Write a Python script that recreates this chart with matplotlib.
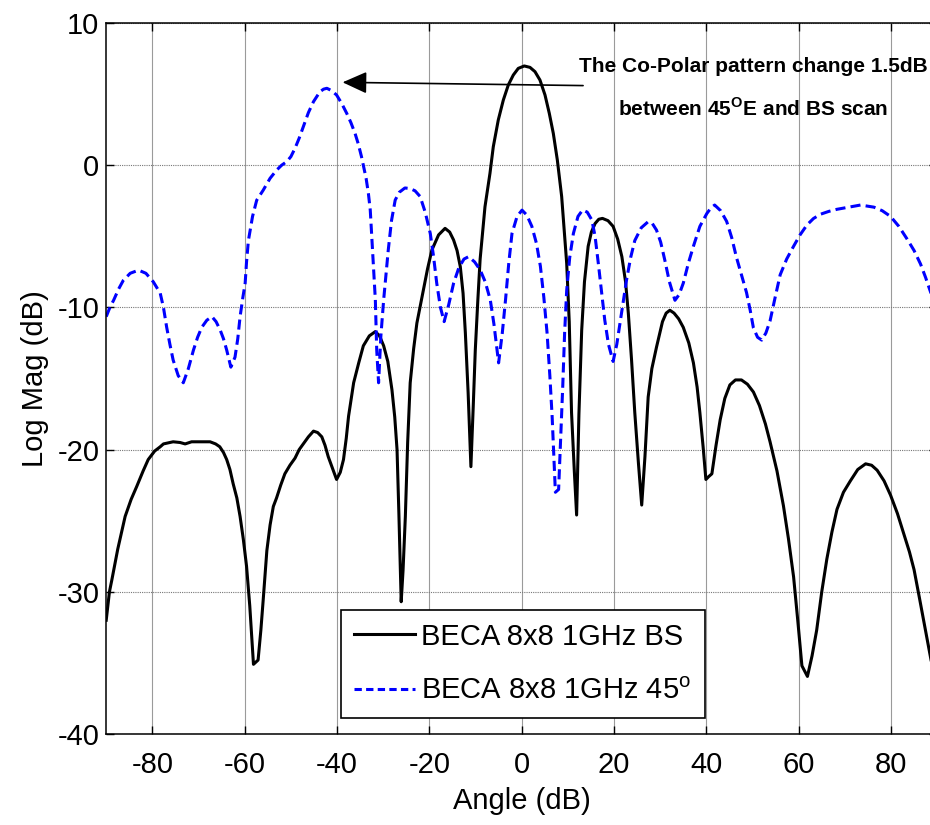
import numpy as np
import matplotlib
matplotlib.use("Agg")
import matplotlib.pyplot as plt

plt.rcParams['font.family'] = ['Liberation Sans', 'DejaVu Sans']
plt.rcParams['axes.unicode_minus'] = False
plt.rcParams['mathtext.fontset'] = 'custom'
plt.rcParams['mathtext.rm'] = 'Liberation Sans'
plt.rcParams['mathtext.bf'] = 'Liberation Sans:bold'

# BECA 8x8 1GHz BS
bs_angle = [-90, -89.3, -88.8, -87.5, -85.9, -84.6, -83.4, -82.0, -80.9, -79.5,
            -78.3, -77.6, -75.5, -74.0, -72.9, -71.5, -69.7, -67.5, -66.3, -65.4,
            -64.6, -63.9, -63.2, -62.5, -61.7, -61.0, -60.3, -59.6, -58.9, -58.1,
            -57.1, -56.5, -56.0, -55.2, -54.5, -53.8, -53.1, -52.2, -51.3, -50.2,
            -49.1, -48.2, -47.3, -46.2, -45.1, -44.2, -43.3, -42.6, -41.9, -41.0,
            -40.1, -39.3, -38.6, -38.0, -37.5, -36.4, -35.3, -34.3, -33.0, -31.7,
            -30.8, -29.9, -29.0, -28.1, -27.5, -27.0, -26.6, -26.1, -25.7, -25.2,
            -24.7, -24.15, -23.4, -22.7, -21.3, -20.4, -19.45, -18.0, -16.6, -15.6,
            -14.75, -14.0, -13.3, -12.7, -12.2, -11.6, -11.0, -10.5, -10.05, -9.5,
            -9.0, -7.95, -6.87, -6.15, -5.07, -3.98, -2.9, -1.82, -0.74, 0.56,
            1.8, 2.88, 3.96, 5.05, 5.98, 6.85, 7.72, 8.66, 9.75, 10.3,
            10.8, 11.4, 11.9, 12.4, 13.0, 13.6, 14.4, 15.1, 15.9, 16.7,
            17.5, 18.7, 19.8, 20.8, 21.7, 22.5, 23.1, 23.8, 24.5, 25.3,
            26.0, 26.7, 27.4, 28.2, 29.2, 30.5, 31.3, 32.1, 33.0, 34.0,
            35.0, 36.2, 37.2, 38.0, 38.6, 39.3, 39.9, 40.5, 41.2, 42.1,
            43.0, 44.0, 45.1, 46.3, 47.6, 48.9, 50.2, 51.5, 52.8, 53.8,
            55.3, 56.7, 57.8, 58.9, 59.8, 60.7, 61.9, 62.9, 63.9, 65.0,
            66.1, 67.2, 68.3, 69.7, 71.2, 72.8, 74.5, 75.8, 77.0, 78.5,
            79.9, 81.4, 82.8, 84.0, 85.0, 86.2, 87.4, 88.6, 90]
bs_mag = [-32.0, -30.0, -29.2, -27.0, -24.7, -23.5, -22.6, -21.5, -20.7, -20.1,
          -19.8, -19.6, -19.45, -19.5, -19.6, -19.45, -19.45, -19.45, -19.6, -19.8,
          -20.2, -20.7, -21.4, -22.4, -23.4, -24.7, -26.3, -28.2, -31.0, -35.1,
          -34.8, -32.7, -30.6, -27.1, -25.3, -24.0, -23.4, -22.5, -21.7, -21.1,
          -20.6, -20.0, -19.6, -19.1, -18.7, -18.8, -19.1, -19.7, -20.5, -21.3,
          -22.1, -21.6, -20.7, -19.2, -17.65, -15.3, -13.9, -12.7, -12.0, -11.7,
          -12.0, -12.7, -13.8, -15.8, -17.7, -20.0, -24.5, -30.7, -28.5, -24.7,
          -19.5, -15.3, -12.9, -11.1, -8.77, -7.3, -5.96, -4.9, -4.44, -4.7,
          -5.26, -6.0, -7.13, -9.0, -11.8, -16.0, -21.2, -17.0, -13.0, -9.5,
          -6.6, -2.92, -0.57, 1.3, 3.18, 4.58, 5.64, 6.34, 6.81, 6.98,
          6.88, 6.58, 5.99, 4.94, 3.65, 2.24, 0.37, -2.2, -6.9, -11.0,
          -17.4, -21.5, -24.6, -17.5, -11.6, -8.2, -5.7, -4.7, -4.1, -3.8,
          -3.74, -3.9, -4.3, -5.2, -6.43, -8.2, -10.4, -13.7, -17.4, -21.0,
          -23.9, -20.5, -16.3, -14.3, -12.8, -11.0, -10.4, -10.2, -10.4, -10.8,
          -11.4, -12.5, -13.9, -15.6, -17.4, -19.8, -22.1, -21.9, -21.7, -19.7,
          -17.9, -16.4, -15.45, -15.1, -15.1, -15.4, -15.95, -16.9, -18.2, -19.45,
          -21.5, -23.95, -26.3, -28.95, -32.0, -35.2, -35.95, -34.5, -32.7, -30.0,
          -27.7, -25.8, -24.2, -23.0, -22.2, -21.4, -21.0, -21.1, -21.45, -22.2,
          -23.2, -24.5, -25.95, -27.2, -28.45, -30.5, -32.6, -34.7, -36.5]

# BECA 8x8 1GHz 45 deg scan
s45_angle = [-90, -89.2, -88.4, -87.3, -86.3, -84.8, -83.0, -81.4, -79.8, -78.3,
             -77.6, -76.9, -76.2, -75.5, -74.4, -73.3, -72.2, -71.1, -70.2, -69.3,
             -68.2, -67.1, -66.2, -65.3, -64.6, -63.9, -63.0, -62.1, -61.5, -61.0,
             -60.4, -59.9, -59.6, -59.2, -58.3, -57.4, -56.0, -54.5, -53.1, -52.0,
             -50.9, -50.0, -49.1, -48.2, -47.3, -46.2, -45.1, -43.7, -42.9, -42.2,
             -41.2, -40.1, -39.0, -37.9, -37.0, -36.1, -35.4, -34.7, -33.7, -33.2,
             -32.8, -32.3, -31.7, -31.4, -31.0, -30.5, -29.9, -28.9, -28.2, -27.4,
             -26.5, -25.3, -24.2, -23.1, -22.0, -20.9, -19.8, -19.1, -18.4, -17.6,
             -16.8, -15.8, -14.75, -13.6, -12.5, -11.5, -10.2, -9.0, -7.9, -6.8,
             -6.0, -5.0, -4.2, -3.5, -2.8, -2.1, -1.0, 0.07, 1.1, 2.2,
             3.2, 4.05, 4.8, 5.5, 6.1, 6.6, 7.3, 8.0, 8.4, 8.9,
             9.3, 9.75, 10.4, 11.2, 12.2, 13.2, 14.2, 15.2, 15.9, 16.6,
             17.3, 18.0, 18.8, 19.8, 20.6, 21.3, 22.0, 22.7, 23.6, 24.5,
             25.9, 27.4, 28.3, 29.2, 30.1, 31.0, 32.0, 33.2, 34.1, 35.0,
             36.1, 37.2, 38.6, 40.1, 41.0, 41.8, 43.1, 44.4, 45.5, 46.5,
             47.6, 48.7, 49.5, 50.2, 51.1, 52.0, 52.9, 53.8, 54.9, 56.0,
             57.4, 58.9, 60.3, 61.8, 63.2, 64.7, 66.5, 68.3, 70.9, 73.4,
             76.3, 78.1, 79.9, 81.7, 83.5, 85.0, 86.4, 87.5, 88.6, 90]
s45_mag = [-10.65, -10.0, -9.5, -8.7, -8.1, -7.6, -7.38, -7.6, -8.2, -9.0,
           -10.0, -11.4, -12.6, -13.7, -14.8, -15.3, -14.3, -13.0, -12.1, -11.4,
           -10.9, -10.65, -11.0, -11.6, -12.2, -13.0, -14.2, -13.5, -12.2, -10.65,
           -9.3, -8.3, -6.8, -5.3, -3.6, -2.46, -1.76, -0.92, -0.35, 0.0,
           0.25, 0.6, 1.19, 1.9, 2.7, 3.7, 4.47, 5.17, 5.35, 5.41,
           5.25, 4.94, 4.35, 3.65, 3.0, 2.24, 1.5, 0.6, -0.92, -2.0,
           -3.16, -6.0, -9.47, -13.0, -15.3, -12.0, -9.47, -5.96, -3.9, -2.45,
           -1.9, -1.6, -1.64, -1.8, -2.2, -3.3, -4.8, -6.4, -8.3, -10.0,
           -11.0, -9.8, -8.3, -7.2, -6.6, -6.43, -6.8, -7.36, -8.2, -9.47,
           -11.2, -13.9, -11.8, -9.47, -6.9, -4.8, -3.6, -3.16, -3.5, -4.3,
           -5.5, -7.1, -9.3, -11.8, -14.8, -17.7, -23.0, -22.8, -19.5, -15.5,
           -11.8, -8.8, -6.5, -4.8, -3.6, -3.15, -3.3, -3.85, -5.0, -6.9,
           -8.9, -10.9, -12.6, -13.8, -12.6, -11.1, -9.6, -8.1, -6.5, -5.3,
           -4.4, -3.97, -4.1, -4.56, -5.4, -6.67, -8.2, -9.5, -9.1, -8.3,
           -6.9, -5.7, -4.3, -3.4, -3.0, -2.8, -3.2, -3.95, -5.1, -6.45,
           -7.7, -8.95, -10.2, -11.45, -12.1, -12.3, -11.8, -10.95, -9.3, -7.7,
           -6.6, -5.7, -4.9, -4.2, -3.75, -3.45, -3.25, -3.1, -2.95, -2.8,
           -2.95, -3.2, -3.6, -4.3, -5.2, -6.0, -6.95, -7.9, -8.95, -10.2]

x_ticks = [-80, -60, -40, -20, 0, 20, 40, 60, 80]
y_ticks = [-40, -30, -20, -10, 0, 10]

fig = plt.figure(figsize=(9.3, 8.25), dpi=100)
# axes run slightly past the right edge, like the cropped original
ax = fig.add_axes([0.1142, 0.1103, 0.8935, 0.8618])

ax.plot(bs_angle, bs_mag, color='black', lw=2.2, label='BECA 8x8 1GHz BS')
ax.plot(s45_angle, s45_mag, color='#0000ff', lw=2.2, dashes=(3.3, 1.7),
        label=r'BECA 8x8 1GHz 45$^\mathrm{o}$')

ax.set_xlim(-90, 90)
ax.set_ylim(-40, 10)
ax.set_xticks(x_ticks)
ax.set_yticks(y_ticks)
ax.tick_params(direction='in', length=6, width=1, labelsize=21,
               top=True, right=True)
ax.tick_params(axis='x', pad=12)
ax.tick_params(axis='y', pad=5)
for sp in ax.spines.values():
    sp.set_linewidth(1.1)

ax.grid(axis='x', color='#9a9a9a', lw=0.8, ls='-')
ax.grid(axis='y', color='#777777', lw=0.8, ls=(0, (1, 1)))
ax.set_axisbelow(True)

ax.set_xlabel('Angle (dB)', fontsize=21, labelpad=6)
ax.set_ylabel('Log Mag (dB)', fontsize=21, labelpad=6)

leg = ax.legend(loc='lower left', bbox_to_anchor=(0.2826, 0.0225),
                borderaxespad=0, fontsize=21, fancybox=False, framealpha=1,
                edgecolor='black', handlelength=2.1, handletextpad=0.2,
                borderpad=0.45, labelspacing=0.9)
leg.get_frame().set_linewidth(1.2)
leg.get_lines()[1].set_dashes((2.4, 1.4))

# annotation
ax.annotate('', xy=(-38.8, 5.83), xytext=(13.3, 5.6),
            arrowprops=dict(arrowstyle='-|>,head_length=1.0,head_width=0.45',
                            mutation_scale=15, color='black', lw=1.2,
                            shrinkA=0, shrinkB=0))
ann_font = dict(family='Liberation Sans', weight='bold', fontsize=15,
                ha='center', va='center')
ax.text(50.1, 6.94, 'The Co-Polar pattern change 1.5dB', **ann_font)
ax.text(50.1, 3.97, r'between 45$^\mathbf{O}$E and BS scan', **ann_font)

fig.savefig('out.png', dpi=100)
